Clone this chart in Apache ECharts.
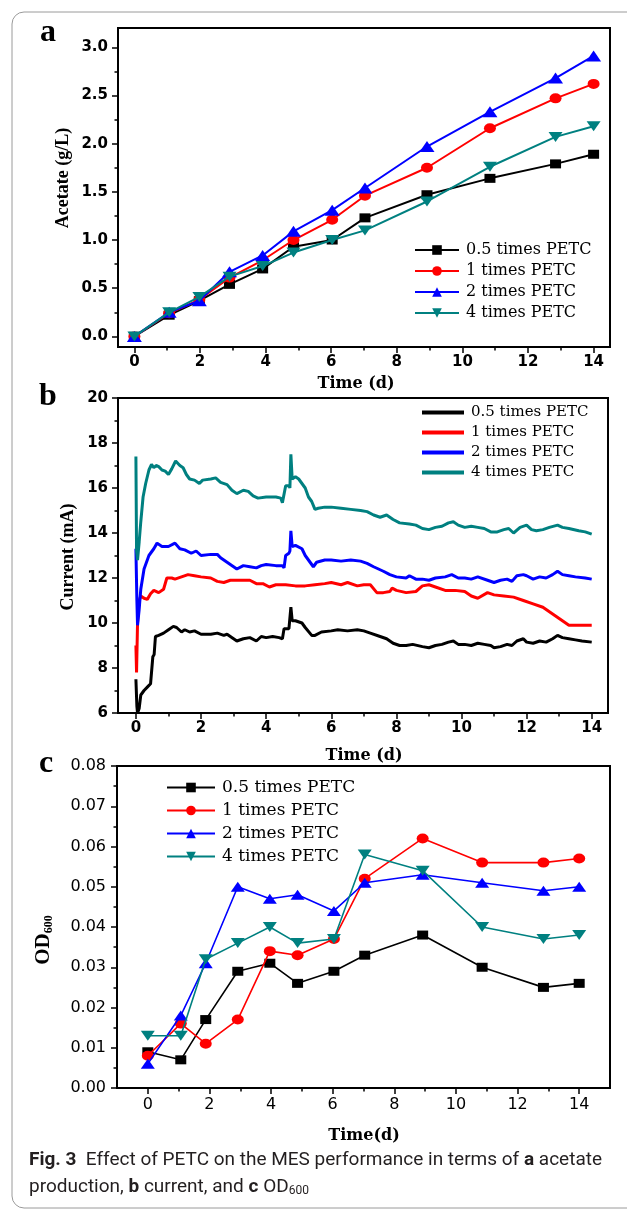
<!DOCTYPE html>
<html><head><meta charset="utf-8">
<script src="https://cdn.jsdelivr.net/npm/echarts@6/dist/echarts.min.js"></script>
<style>html,body{margin:0;padding:0;background:#fff}#c{width:627px;height:1211px}</style>
</head><body><div id="c"></div>
<script>
// ---------- DATA ----------
const seriesNames = ['0.5 times PETC', '1 times PETC', '2 times PETC', '4 times PETC'];

// (a) acetate production
const timeA = [0, 1.06, 1.98, 2.9, 3.91, 4.85, 6.03, 7.03, 8.92, 10.84, 12.84, 14];
const acetate05 = [0, 0.22, 0.37, 0.54, 0.70, 0.93, 1.00, 1.23, 1.47, 1.64, 1.79, 1.89];
const acetate1  = [0, 0.24, 0.38, 0.61, 0.79, 1.00, 1.21, 1.46, 1.75, 2.16, 2.47, 2.62];
const acetate2  = [0, 0.25, 0.37, 0.67, 0.84, 1.09, 1.31, 1.54, 1.97, 2.33, 2.68, 2.91];
const acetate4  = [0, 0.25, 0.41, 0.62, 0.73, 0.87, 1.00, 1.10, 1.40, 1.76, 2.07, 2.18];

// (b) current, [time (d), current (mA)]
const current05 = [[0,7.5],[0.03,6.3],[0.05,6.0],[0.1,6.2],[0.15,6.8],[0.25,7.0],[0.35,7.15],[0.45,7.3],[0.5,7.25],[0.52,8.5],[0.56,8.6],[0.6,9.4],[0.7,9.45],[0.85,9.55],[1.0,9.7],[1.15,9.85],[1.25,9.8],[1.4,9.6],[1.5,9.7],[1.65,9.6],[1.8,9.65],[2.0,9.5],[2.3,9.5],[2.5,9.55],[2.7,9.45],[2.8,9.5],[3.0,9.3],[3.1,9.2],[3.3,9.3],[3.5,9.35],[3.7,9.2],[3.85,9.4],[4.0,9.35],[4.2,9.4],[4.4,9.35],[4.5,9.3],[4.55,9.75],[4.7,9.75],[4.73,9.8],[4.76,10.7],[4.8,10.1],[4.9,10.1],[5.1,10.0],[5.2,9.8],[5.4,9.45],[5.5,9.45],[5.7,9.6],[6.0,9.65],[6.2,9.7],[6.5,9.65],[6.8,9.7],[7.0,9.65],[7.2,9.55],[7.5,9.4],[7.7,9.3],[7.9,9.1],[8.1,9.0],[8.3,9.0],[8.5,9.05],[8.8,8.95],[9.0,8.9],[9.2,9.0],[9.4,9.05],[9.6,9.15],[9.75,9.2],[9.9,9.05],[10.1,9.05],[10.3,9.0],[10.5,9.1],[10.7,9.05],[10.9,9.0],[11.0,8.9],[11.2,8.95],[11.4,9.05],[11.55,9.0],[11.7,9.2],[11.9,9.3],[12.0,9.15],[12.2,9.1],[12.4,9.2],[12.6,9.15],[12.8,9.3],[12.95,9.45],[13.1,9.35],[13.3,9.3],[13.5,9.25],[13.7,9.2],[14.0,9.15]];
const current1 = [[0,9.0],[0.02,7.8],[0.05,10.0],[0.1,11.0],[0.15,11.2],[0.25,11.1],[0.35,11.05],[0.45,11.3],[0.55,11.45],[0.7,11.35],[0.85,11.5],[0.95,12.0],[1.1,12.0],[1.2,11.95],[1.4,12.05],[1.6,12.15],[1.8,12.1],[2.0,12.05],[2.3,12.0],[2.5,11.85],[2.7,11.8],[2.9,11.9],[3.2,11.9],[3.5,11.9],[3.7,11.75],[3.9,11.75],[4.1,11.6],[4.3,11.7],[4.6,11.7],[4.9,11.65],[5.2,11.65],[5.5,11.7],[5.8,11.75],[6.0,11.8],[6.3,11.7],[6.5,11.8],[6.8,11.65],[7.0,11.7],[7.2,11.7],[7.4,11.35],[7.6,11.35],[7.8,11.4],[7.87,11.55],[8.0,11.45],[8.3,11.35],[8.6,11.4],[8.8,11.65],[9.0,11.7],[9.2,11.6],[9.5,11.45],[9.8,11.45],[10.1,11.4],[10.3,11.2],[10.5,11.1],[10.8,11.35],[11.0,11.25],[11.3,11.2],[11.6,11.15],[11.9,11.0],[12.2,10.85],[12.5,10.7],[12.8,10.4],[13.1,10.1],[13.3,9.9],[13.6,9.9],[14.0,9.9]];
const current2 = [[0,13.3],[0.03,11.0],[0.05,9.9],[0.1,10.6],[0.15,11.5],[0.25,12.4],[0.4,13.0],[0.55,13.3],[0.65,13.55],[0.8,13.4],[1.0,13.4],[1.2,13.55],[1.35,13.3],[1.5,13.25],[1.7,13.1],[1.85,13.2],[2.0,13.0],[2.3,13.05],[2.5,13.05],[2.6,12.9],[2.8,12.7],[3.0,12.5],[3.1,12.4],[3.3,12.55],[3.5,12.5],[3.7,12.45],[3.85,12.55],[4.0,12.6],[4.3,12.55],[4.5,12.55],[4.55,12.45],[4.6,13.0],[4.7,13.1],[4.73,13.2],[4.76,14.1],[4.8,13.4],[4.9,13.45],[5.1,13.3],[5.2,13.0],[5.35,12.7],[5.45,12.5],[5.55,12.7],[5.8,12.8],[6.0,12.8],[6.3,12.75],[6.6,12.8],[6.9,12.75],[7.1,12.65],[7.3,12.5],[7.6,12.3],[7.8,12.15],[8.0,12.05],[8.3,12.0],[8.4,12.1],[8.6,11.95],[8.8,11.95],[9.0,11.9],[9.2,12.0],[9.5,12.05],[9.7,12.15],[9.9,12.0],[10.1,12.0],[10.3,11.95],[10.5,12.05],[10.8,11.9],[11.0,11.8],[11.2,11.9],[11.4,11.95],[11.55,11.85],[11.7,12.1],[11.9,12.15],[12.0,12.1],[12.2,11.95],[12.4,12.05],[12.6,12.0],[12.8,12.15],[12.95,12.3],[13.1,12.15],[13.3,12.1],[13.5,12.05],[13.8,12.0],[14.0,11.95]];
const current4 = [[0,17.4],[0.02,13.2],[0.05,12.8],[0.1,13.6],[0.15,14.5],[0.22,15.6],[0.3,16.2],[0.4,16.8],[0.48,17.05],[0.55,16.9],[0.62,17.0],[0.7,16.95],[0.8,16.8],[0.9,16.75],[1.0,16.6],[1.1,16.85],[1.22,17.2],[1.35,17.0],[1.45,16.9],[1.55,16.6],[1.65,16.4],[1.8,16.35],[1.95,16.2],[2.05,16.35],[2.3,16.4],[2.45,16.45],[2.6,16.25],[2.8,16.15],[2.95,15.9],[3.1,15.75],[3.3,15.9],[3.45,15.85],[3.6,15.65],[3.75,15.55],[4.0,15.6],[4.3,15.6],[4.45,15.55],[4.5,15.35],[4.56,15.4],[4.6,16.1],[4.7,16.1],[4.73,16.0],[4.76,17.5],[4.8,16.4],[4.9,16.5],[5.0,16.4],[5.1,16.2],[5.2,16.0],[5.3,15.6],[5.4,15.4],[5.5,15.05],[5.6,15.1],[5.8,15.15],[6.0,15.15],[6.3,15.1],[6.6,15.05],[6.9,15.0],[7.1,14.95],[7.3,14.8],[7.5,14.7],[7.7,14.8],[7.9,14.6],[8.1,14.45],[8.4,14.4],[8.6,14.35],[8.8,14.2],[9.0,14.15],[9.2,14.25],[9.4,14.3],[9.6,14.45],[9.75,14.5],[9.9,14.35],[10.1,14.25],[10.3,14.3],[10.5,14.25],[10.7,14.2],[10.9,14.05],[11.1,14.05],[11.3,14.15],[11.45,14.2],[11.6,14.0],[11.8,14.25],[12.0,14.35],[12.15,14.15],[12.3,14.1],[12.5,14.15],[12.7,14.25],[12.95,14.35],[13.1,14.25],[13.3,14.2],[13.6,14.1],[13.8,14.05],[14.0,13.95]];

// (c) OD600
const timeC = [0, 1.07, 1.88, 2.92, 3.96, 4.86, 6.04, 7.04, 8.92, 10.85, 12.84, 14];
const od05 = [0.009, 0.007, 0.017, 0.029, 0.031, 0.026, 0.029, 0.033, 0.038, 0.030, 0.025, 0.026];
const od1  = [0.008, 0.016, 0.011, 0.017, 0.034, 0.033, 0.037, 0.052, 0.062, 0.056, 0.056, 0.057];
const od2  = [0.006, 0.018, 0.031, 0.050, 0.047, 0.048, 0.044, 0.051, 0.053, 0.051, 0.049, 0.050];
const od4  = [0.013, 0.013, 0.032, 0.036, 0.040, 0.036, 0.037, 0.058, 0.054, 0.040, 0.037, 0.038];

// tick values
const xMajorTicks = [0, 2, 4, 6, 8, 10, 12, 14];
const xMinorTicks = [1, 3, 5, 7, 9, 11, 13];
const yTicksA = [0, 0.5, 1.0, 1.5, 2.0, 2.5, 3.0];
const yMinorA = [0.25, 0.75, 1.25, 1.75, 2.25, 2.75];
const yTicksB = [6, 8, 10, 12, 14, 16, 18, 20];
const yMinorB = [7, 9, 11, 13, 15, 17, 19];
const yTicksC = [0, 0.01, 0.02, 0.03, 0.04, 0.05, 0.06, 0.07, 0.08];
const yMinorC = [0.005, 0.015, 0.025, 0.035, 0.045, 0.055, 0.065, 0.075];

// ---------- STYLE ----------
const colors = ['#000000', '#ff0000', '#0000ff', '#008080'];
const downTri = 'path://M0,0L10,0L5,8.66Z';
const symbolsA = ['rect', 'circle', 'triangle', downTri];
const symSizeA = [[11, 9], [12, 10], [15, 11], [14, 10]];
const symSizeC = [[11, 9], [12, 10], [14, 10], [14, 10]];

const chart = echarts.init(document.getElementById('c'), null, {renderer: 'canvas'});

const grids = [
  {left: 118, top: 28, width: 492, height: 319},
  {left: 118, top: 398, width: 490, height: 315},
  {left: 117, top: 766, width: 493, height: 322}
].map(g => Object.assign(g, {show: true, borderColor: '#000', borderWidth: 2, backgroundColor: 'transparent', containLabel: false}));

const boldSans = {fontFamily: 'DejaVu Sans', fontWeight: 'bold', fontSize: 15, color: '#000'};
const regSans = {fontFamily: 'DejaVu Sans', fontWeight: 'normal', fontSize: 16, color: '#000'};

function axisPair(dim, gridIndex, min, max, major, minor, labelStyle, fmt, margin) {
  const base = {type: 'value', gridIndex, min, max, splitLine: {show: false}, position: dim === 'x' ? 'bottom' : 'left'};
  const main = Object.assign({}, base, {
    axisLine: {show: true, onZero: false, lineStyle: {color: '#000', width: 2}},
    axisTick: {show: true, inside: false, length: 6, lineStyle: {color: '#000', width: 1.5}, customValues: major},
    axisLabel: Object.assign({show: true, margin, customValues: major, formatter: fmt}, labelStyle)
  });
  const mnr = Object.assign({}, base, {
    axisLine: {show: false, onZero: false},
    axisTick: {show: true, inside: false, length: 3.5, lineStyle: {color: '#000', width: 1.5}, customValues: minor},
    axisLabel: {show: false}
  });
  return [main, mnr];
}

const xAxes = [
  ...axisPair('x', 0, -0.5, 14.5, xMajorTicks, xMinorTicks, boldSans, v => String(v), 8),
  ...axisPair('x', 1, -0.55, 14.5, xMajorTicks, xMinorTicks, boldSans, v => String(v), 8),
  ...axisPair('x', 2, -1, 15, xMajorTicks, xMinorTicks, regSans, v => String(v), 9)
];
const yAxes = [
  ...axisPair('y', 0, -0.11, 3.2, yTicksA, yMinorA, boldSans, v => v.toFixed(1), 10),
  ...axisPair('y', 1, 6, 20, yTicksB, yMinorB, boldSans, v => String(v), 10),
  ...axisPair('y', 2, 0, 0.08, yTicksC, yMinorC, regSans, v => v.toFixed(2), 11)
];

function zip(xs, ys) { return xs.map((x, i) => [x, ys[i]]); }

const series = [];
const acetate = [acetate05, acetate1, acetate2, acetate4];
acetate.forEach((d, i) => series.push({
  name: 'a|' + seriesNames[i], type: 'line', xAxisIndex: 0, yAxisIndex: 0,
  data: zip(timeA, d), symbol: symbolsA[i], symbolSize: symSizeA[i], showSymbol: true,
  itemStyle: {color: colors[i]}, lineStyle: {color: colors[i], width: 2}, animation: false, z: 2 + i
}));
const currents = [current05, current1, current2, current4];
currents.forEach((d, i) => series.push({
  name: 'b|' + seriesNames[i], type: 'line', xAxisIndex: 2, yAxisIndex: 2,
  data: d, symbol: 'none', showSymbol: false,
  itemStyle: {color: colors[i]}, lineStyle: {color: colors[i], width: 3}, animation: false, z: 2 + i
}));
const ods = [od05, od1, od2, od4];
ods.forEach((d, i) => series.push({
  name: 'c|' + seriesNames[i], type: 'line', xAxisIndex: 4, yAxisIndex: 4,
  data: zip(timeC, d), symbol: symbolsA[i], symbolSize: symSizeC[i], showSymbol: true,
  itemStyle: {color: colors[i]}, lineStyle: {color: colors[i], width: 1.6}, animation: false, z: 2 + i
}));

const stripName = n => n.split('|')[1];
function legend(prefix, left, top, itemWidth, itemHeight, gap, fs, icon) {
  const l = {
    data: seriesNames.map(n => prefix + '|' + n), orient: 'vertical', left, top,
    itemWidth, itemHeight, itemGap: gap, selectedMode: false, formatter: stripName,
    textStyle: {fontFamily: 'DejaVu Serif', fontSize: fs, color: '#000', padding: [0, 0, 0, 2]}
  };
  if (icon) l.icon = icon;
  return l;
}

const serifB = 'bold 18px "Liberation Serif"';
function txt(text, x, y, font, rot) {
  return {
    type: 'text', x, y, rotation: rot || 0,
    style: {text, font, fill: '#000', align: 'center', verticalAlign: 'middle'}
  };
}
const capCol = '#231f20';
const capFS = 19;

const graphic = [
  {type: 'rect', shape: {x: 12, y: 12, width: 700, height: 1196, r: 12}, style: {fill: 'none', stroke: '#9a9a9a', lineWidth: 1}, z: -10},
  txt('a', 48, 33, 'bold 32px "Liberation Serif"'),
  txt('b', 48, 397, 'bold 32px "Liberation Serif"'),
  txt('c', 46, 764, 'bold 32px "Liberation Serif"'),
  txt('Acetate (g/L)', 63, 178, serifB, Math.PI / 2),
  txt('Current (mA)', 68, 557, serifB, Math.PI / 2),
  {
    type: 'text', x: 44, y: 940, rotation: Math.PI / 2,
    style: {
      text: '{m|OD}{s|600}', align: 'center', verticalAlign: 'middle',
      rich: {
        m: {fontSize: 21, fontWeight: 'bold', fontFamily: 'Liberation Serif', fill: '#000'},
        s: {fontSize: 12, fontWeight: 'bold', fontFamily: 'Liberation Serif', fill: '#000', padding: [10, 0, 0, 0]}
      }
    }
  },
  txt('Time (d)', 356, 384, 'bold 16px "DejaVu Serif"'),
  txt('Time (d)', 364, 756, 'bold 16px "DejaVu Serif"'),
  txt('Time(d)', 364, 1136, 'bold 16px "DejaVu Serif"'),
  {
    type: 'text', x: 29, y: 1170,
    style: {
      text: '{b|Fig. 3}{r|  Effect of PETC on the MES performance in terms of }{b|a}{r| acetate}',
      verticalAlign: 'bottom', align: 'left',
      rich: {
        b: {fontSize: capFS, fontWeight: 'bold', fontFamily: 'Roboto', fill: capCol},
        r: {fontSize: capFS, fontFamily: 'Roboto', fill: capCol}
      }
    }
  },
  {
    type: 'text', x: 29, y: 1197,
    style: {
      text: '{r|production, }{b|b}{r| current, and }{b|c}{r| OD}{s|600}',
      verticalAlign: 'bottom', align: 'left',
      rich: {
        b: {fontSize: capFS, fontWeight: 'bold', fontFamily: 'Roboto', fill: capCol},
        r: {fontSize: capFS, fontFamily: 'Roboto', fill: capCol},
        s: {fontSize: 12, fontFamily: 'Roboto', fill: capCol, padding: [8, 0, 0, 0]}
      }
    }
  }
];

chart.setOption({
  backgroundColor: '#fff',
  animation: false,
  grid: grids,
  xAxis: xAxes,
  yAxis: yAxes,
  legend: [
    legend('a', 409, 237, 44, 12, 5, 16),
    legend('b', 417, 400, 42, 4, 5, 15, 'rect'),
    legend('c', 161, 774, 48, 12, 6, 17)
  ],
  series,
  graphic
});
</script></body></html>
